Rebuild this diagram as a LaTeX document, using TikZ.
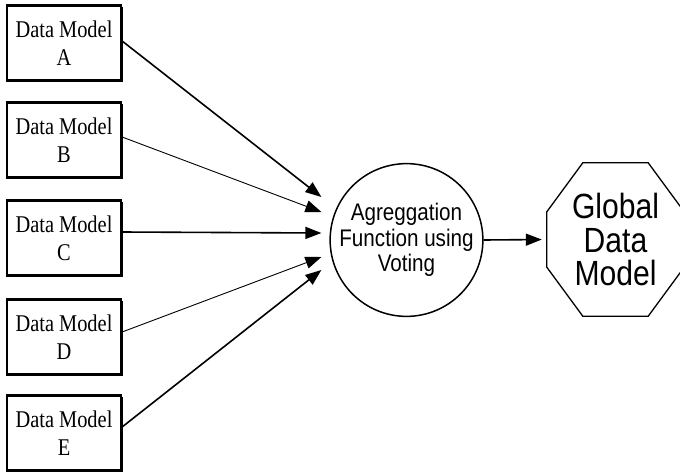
\documentclass[tikz,border=0pt]{standalone}
\usepackage{fontspec}
\setmainfont{Liberation Serif}[FakeStretch=0.85]
\setsansfont{Liberation Sans}[FakeStretch=0.86]
\usepackage{tikz}
\usetikzlibrary{arrows.meta,positioning,shadows}

\begin{document}
\begin{tikzpicture}[
    x=1pt,y=-1pt,
    model/.style={draw, fill=white, line width=2.2pt, align=center, minimum width=114pt,
                  minimum height=75pt, inner sep=0pt, font=\fontsize{24}{28}\selectfont,
                  drop shadow={shadow xshift=1.8pt, shadow yshift=-1.8pt, fill=black, opacity=1}},
    vote/.style={draw, circle, line width=1.5pt, align=center, minimum size=151pt,
                 inner sep=0pt, font=\sffamily\fontsize{24}{25.5}\selectfont},
    globalbox/.style={align=center, minimum width=137pt, minimum height=153pt,
                      inner sep=0pt, font=\sffamily\fontsize{35}{33.5}\selectfont},
    arrow/.style={-{Triangle[length=16pt,width=12pt]}, line width=1.6pt},
    lightarrow/.style={-{Triangle[length=16pt,width=12pt]}, line width=0.9pt}
]
\useasboundingbox (0,0) rectangle (680,474);

% Input data models
\node[model] (mA) at (64,43) {Data Model\\A};
\node[model] (mB) at (64,140) {Data Model\\B};
\node[model] (mC) at (64,238) {Data Model\\C};
\node[model] (mD) at (64,337) {Data Model\\D};
\node[model] (mE) at (64,433) {Data Model\\E};

% Voting and result
\node[vote] (agg) at (406.5,240) {Agreggation\\Function using\\Voting};
\node[globalbox] (glob) at (615.5,239.5) {Global\\Data\\Model};
\draw[line width=1.3pt] ([xshift=36pt]glob.north west) -- ([xshift=-36pt]glob.north east)
    -- ([yshift=-49pt]glob.north east) -- ([yshift=49pt]glob.south east)
    -- ([xshift=-36pt]glob.south east) -- ([xshift=36pt]glob.south west)
    -- ([yshift=49pt]glob.south west) -- ([yshift=-49pt]glob.north west) -- cycle;

% Arrows into the voting function
\draw[arrow] ([yshift=2pt]mA.east) -- ([shift={(-8,-43)}]agg.west);
\draw[lightarrow] ([yshift=3pt]mB.east) -- ([shift={(-8,-28)}]agg.west);
\draw[arrow] ([yshift=6pt]mC.east) -- ([shift={(-8,-7)}]agg.west);
\draw[lightarrow] ([yshift=5pt]mD.east) -- ([shift={(-8,17)}]agg.west);
\draw[arrow] ([yshift=6pt]mE.east) -- ([shift={(-8,30)}]agg.west);

\draw[arrow, shorten >=5pt] (agg.east) -- (glob.west);
\end{tikzpicture}
\end{document}
